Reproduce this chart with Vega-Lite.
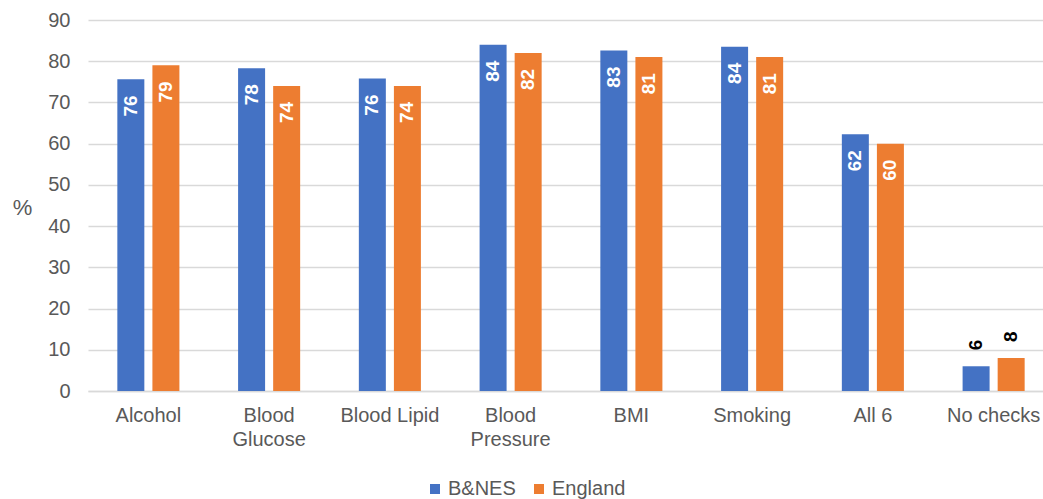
{
  "$schema": "https://vega.github.io/schema/vega-lite/v6.json",
  "autosize": {"type": "none"},
  "width": 955,
  "height": 371,
  "padding": {"left": 88, "top": 20, "right": 0, "bottom": 108},
  "background": "white",
  "config": {
    "font": "Liberation Sans",
    "view": {"stroke": null}
  },
  "data": {
    "values": [
      {"check": "Alcohol", "area": "B&NES", "value": 75.6},
      {"check": "Alcohol", "area": "England", "value": 79},
      {"check": "Blood Glucose", "area": "B&NES", "value": 78.3},
      {"check": "Blood Glucose", "area": "England", "value": 74},
      {"check": "Blood Lipid", "area": "B&NES", "value": 75.8},
      {"check": "Blood Lipid", "area": "England", "value": 74},
      {"check": "Blood Pressure", "area": "B&NES", "value": 84},
      {"check": "Blood Pressure", "area": "England", "value": 82},
      {"check": "BMI", "area": "B&NES", "value": 82.6},
      {"check": "BMI", "area": "England", "value": 81},
      {"check": "Smoking", "area": "B&NES", "value": 83.5},
      {"check": "Smoking", "area": "England", "value": 81},
      {"check": "All 6", "area": "B&NES", "value": 62.3},
      {"check": "All 6", "area": "England", "value": 60},
      {"check": "No checks", "area": "B&NES", "value": 6},
      {"check": "No checks", "area": "England", "value": 8}
    ]
  },
  "encoding": {
    "x": {
      "field": "check",
      "type": "nominal",
      "sort": null,
      "scale": {"range": [0, 966], "paddingInner": 0.486, "paddingOuter": 0.243},
      "axis": {
        "title": null,
        "labelAngle": 0,
        "labelFontSize": 20,
        "labelColor": "#595959",
        "labelPadding": 14,
        "labelBaseline": "top",
        "ticks": false,
        "domainColor": "#d9d9d9",
        "domainWidth": 1.5,
        "labelLineHeight": 24,
        "labelOverlap": false,
        "labelExpr": "datum.label == 'Blood Glucose' ? ['Blood', 'Glucose'] : datum.label == 'Blood Pressure' ? ['Blood', 'Pressure'] : datum.label"
      }
    },
    "xOffset": {
      "field": "area",
      "type": "nominal",
      "scale": {"paddingInner": 0.23, "paddingOuter": 0}
    },
    "y": {
      "field": "value",
      "type": "quantitative",
      "scale": {"domain": [0, 90]},
      "axis": {
        "title": "%",
        "titleAngle": 0,
        "titleFontSize": 22,
        "titleFontWeight": "normal",
        "titleColor": "#595959",
        "titleX": -66,
        "titleY": 187,
        "titleAlign": "center",
        "titleBaseline": "middle",
        "values": [0, 10, 20, 30, 40, 50, 60, 70, 80, 90],
        "labelOverlap": false,
        "labelFontSize": 20,
        "labelColor": "#595959",
        "labelPadding": 18,
        "ticks": false,
        "domain": false,
        "gridColor": "#d9d9d9",
        "gridWidth": 1.5
      }
    }
  },
  "layer": [
    {
      "mark": {"type": "bar"},
      "encoding": {
        "color": {
          "field": "area",
          "type": "nominal",
          "scale": {"domain": ["B&NES", "England"], "range": ["#4472C4", "#ED7D31"]},
          "legend": {
            "title": null,
            "orient": "none",
            "direction": "horizontal",
            "legendX": 337,
            "legendY": 459,
            "symbolType": "square",
            "symbolSize": 100,
            "symbolStrokeWidth": 0,
            "labelFontSize": 20,
            "labelColor": "#595959",
            "labelOffset": 3,
            "columnPadding": 13
          }
        }
      }
    },
    {
      "transform": [{"filter": "datum.check != 'No checks'"}],
      "mark": {
        "type": "text",
        "angle": -90,
        "align": "right",
        "baseline": "middle",
        "dx": -16,
        "fontSize": 19,
        "fontWeight": "bold",
        "color": "white"
      },
      "encoding": {
        "text": {"field": "value", "type": "quantitative", "format": ".0f"}
      }
    },
    {
      "transform": [{"filter": "datum.check == 'No checks'"}],
      "mark": {
        "type": "text",
        "angle": -90,
        "align": "left",
        "baseline": "middle",
        "dx": 16,
        "fontSize": 19,
        "fontWeight": "bold",
        "color": "black"
      },
      "encoding": {
        "text": {"field": "value", "type": "quantitative", "format": ".0f"}
      }
    }
  ]
}
